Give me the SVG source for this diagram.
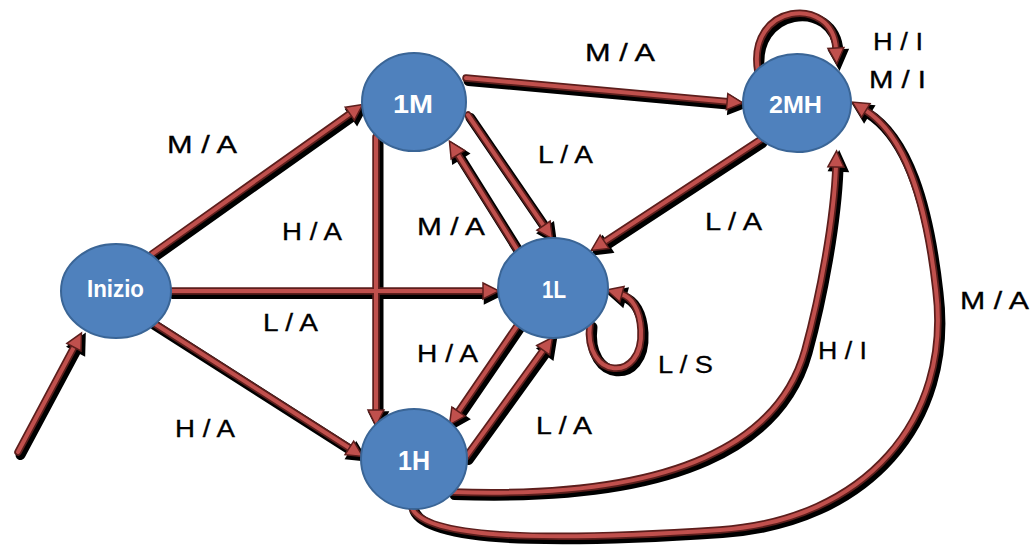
<svg xmlns="http://www.w3.org/2000/svg" xmlns:xlink="http://www.w3.org/1999/xlink" width="1035" height="548" viewBox="0 0 1035 548">
<style>
.sh use{stroke:#000;stroke-width:10;fill:none;stroke-linecap:round;marker-end:url(#mSh)}
.ol use{stroke:#5c1e1c;stroke-width:7.5;fill:none;stroke-linecap:round}
.fl use{stroke:#C0504D;stroke-width:4;fill:none;stroke-linecap:round;marker-end:url(#mFl)}
.node ellipse{fill:#4F81BD;stroke:#3A6596;stroke-width:2}
.node text{font-family:"Liberation Sans",Arial,sans-serif;font-weight:bold;fill:#fff}
.lbl{font-family:"Liberation Sans",Arial,sans-serif;font-size:23px;fill:#000;stroke:#000;stroke-width:0.3}
</style>
<defs>
<marker id="mFl" markerUnits="userSpaceOnUse" viewBox="-4 -12 24 24" markerWidth="24" markerHeight="24" refX="0" refY="0" orient="auto" overflow="visible"><path d="M-1,-8 L15,0 L-1,8 Z" fill="#C0504D" stroke="#5c1e1c" stroke-width="1.5"/></marker>
<marker id="mSh" markerUnits="userSpaceOnUse" viewBox="-4 -12 24 24" markerWidth="24" markerHeight="24" refX="0" refY="0" orient="auto" overflow="visible"><path d="M-1,-8 L15,0 L-1,8 Z" fill="#000" stroke="#000" stroke-width="3.5"/></marker>
<path id="c1" d="M18,452 L74.4,346.3"/>
<path id="c2" d="M152,254 L350.6,113.1"/>
<path id="c3" d="M170,291 L484,291"/>
<path id="c4" d="M152,322 L350.2,448.5"/>
<path id="c5" d="M376,137 L376,411"/>
<path id="c6" d="M466,78 L728.1,101.7"/>
<path id="c7" d="M468,115 L544.1,226.4"/>
<path id="c8" d="M518,251 L457.4,153.9"/>
<path id="c9" d="M760,140 L603.7,242.3"/>
<path id="c10" d="M517,326 L457.9,412.4"/>
<path id="c11" d="M466,457 L543.8,349.4"/>
<path id="c12" d="M590,324 C583,380 644,384 641,330 C640,310 632,297 621,294"/>
<path id="c13" d="M758,72 C746,3 833,-6 836,49"/>
<path id="c14" d="M452,492 C680,500 780,440 805,350 C820,295 834,220 836,166"/>
<path id="c15" d="M412,508 C428,545 600,538 720,530 C865,520 952,420 936,290 C926,200 905,135 865,110"/>
</defs>
<g id="connectors">
<g class="sh" transform="translate(2.5,3)">
<use xlink:href="#c1"/><use xlink:href="#c2"/><use xlink:href="#c3"/><use xlink:href="#c4"/><use xlink:href="#c5"/><use xlink:href="#c6"/><use xlink:href="#c7"/><use xlink:href="#c8"/><use xlink:href="#c9"/><use xlink:href="#c10"/><use xlink:href="#c11"/><use xlink:href="#c12"/><use xlink:href="#c13"/><use xlink:href="#c14"/><use xlink:href="#c15"/>
</g>
<g class="ol">
<use xlink:href="#c1"/><use xlink:href="#c2"/><use xlink:href="#c3"/><use xlink:href="#c4"/><use xlink:href="#c5"/><use xlink:href="#c6"/><use xlink:href="#c7"/><use xlink:href="#c8"/><use xlink:href="#c9"/><use xlink:href="#c10"/><use xlink:href="#c11"/><use xlink:href="#c12"/><use xlink:href="#c13"/><use xlink:href="#c14"/><use xlink:href="#c15"/>
</g>
<g class="fl">
<use xlink:href="#c1"/><use xlink:href="#c2"/><use xlink:href="#c3"/><use xlink:href="#c4"/><use xlink:href="#c5"/><use xlink:href="#c6"/><use xlink:href="#c7"/><use xlink:href="#c8"/><use xlink:href="#c9"/><use xlink:href="#c10"/><use xlink:href="#c11"/><use xlink:href="#c12"/><use xlink:href="#c13"/><use xlink:href="#c14"/><use xlink:href="#c15"/>
</g>
<g id="labels">
<text class="lbl" x="167" y="153" textLength="70" lengthAdjust="spacingAndGlyphs">M / A</text>
<text class="lbl" x="585" y="61" textLength="70" lengthAdjust="spacingAndGlyphs">M / A</text>
<text class="lbl" x="282" y="240" textLength="60" lengthAdjust="spacingAndGlyphs">H / A</text>
<text class="lbl" x="417" y="235" textLength="68" lengthAdjust="spacingAndGlyphs">M / A</text>
<text class="lbl" x="538" y="163" textLength="55" lengthAdjust="spacingAndGlyphs">L / A</text>
<text class="lbl" x="705" y="230" textLength="57" lengthAdjust="spacingAndGlyphs">L / A</text>
<text class="lbl" x="263" y="331" textLength="55" lengthAdjust="spacingAndGlyphs">L / A</text>
<text class="lbl" x="417" y="362" textLength="61" lengthAdjust="spacingAndGlyphs">H / A</text>
<text class="lbl" x="658" y="373" textLength="55" lengthAdjust="spacingAndGlyphs">L / S</text>
<text class="lbl" x="175" y="437" textLength="60" lengthAdjust="spacingAndGlyphs">H / A</text>
<text class="lbl" x="536" y="434" textLength="56" lengthAdjust="spacingAndGlyphs">L / A</text>
<text class="lbl" x="818" y="359" textLength="49" lengthAdjust="spacingAndGlyphs">H / I</text>
<text class="lbl" x="960" y="309" textLength="69" lengthAdjust="spacingAndGlyphs">M / A</text>
<text class="lbl" x="873" y="50" textLength="50" lengthAdjust="spacingAndGlyphs">H / I</text>
<text class="lbl" x="869" y="88" textLength="57" lengthAdjust="spacingAndGlyphs">M / I</text>
</g>
</g>
<g id="node-inizio" class="node"><ellipse cx="116" cy="291" rx="55" ry="47"/><text x="87" y="297" font-size="23" textLength="57" lengthAdjust="spacingAndGlyphs">Inizio</text></g>
<g id="node-1M" class="node"><ellipse cx="414" cy="102" rx="52" ry="49"/><text x="393" y="113" font-size="26" textLength="40" lengthAdjust="spacingAndGlyphs">1M</text></g>
<g id="node-2MH" class="node"><ellipse cx="797" cy="103" rx="54" ry="49"/><text x="769" y="113" font-size="23" textLength="53" lengthAdjust="spacingAndGlyphs">2MH</text></g>
<g id="node-1L" class="node"><ellipse cx="553" cy="288" rx="55" ry="50"/><text x="542" y="298" font-size="23" textLength="24" lengthAdjust="spacingAndGlyphs">1L</text></g>
<g id="node-1H" class="node"><ellipse cx="414" cy="459" rx="53" ry="50"/><text x="398" y="470" font-size="27" textLength="32" lengthAdjust="spacingAndGlyphs">1H</text></g>
</svg>
